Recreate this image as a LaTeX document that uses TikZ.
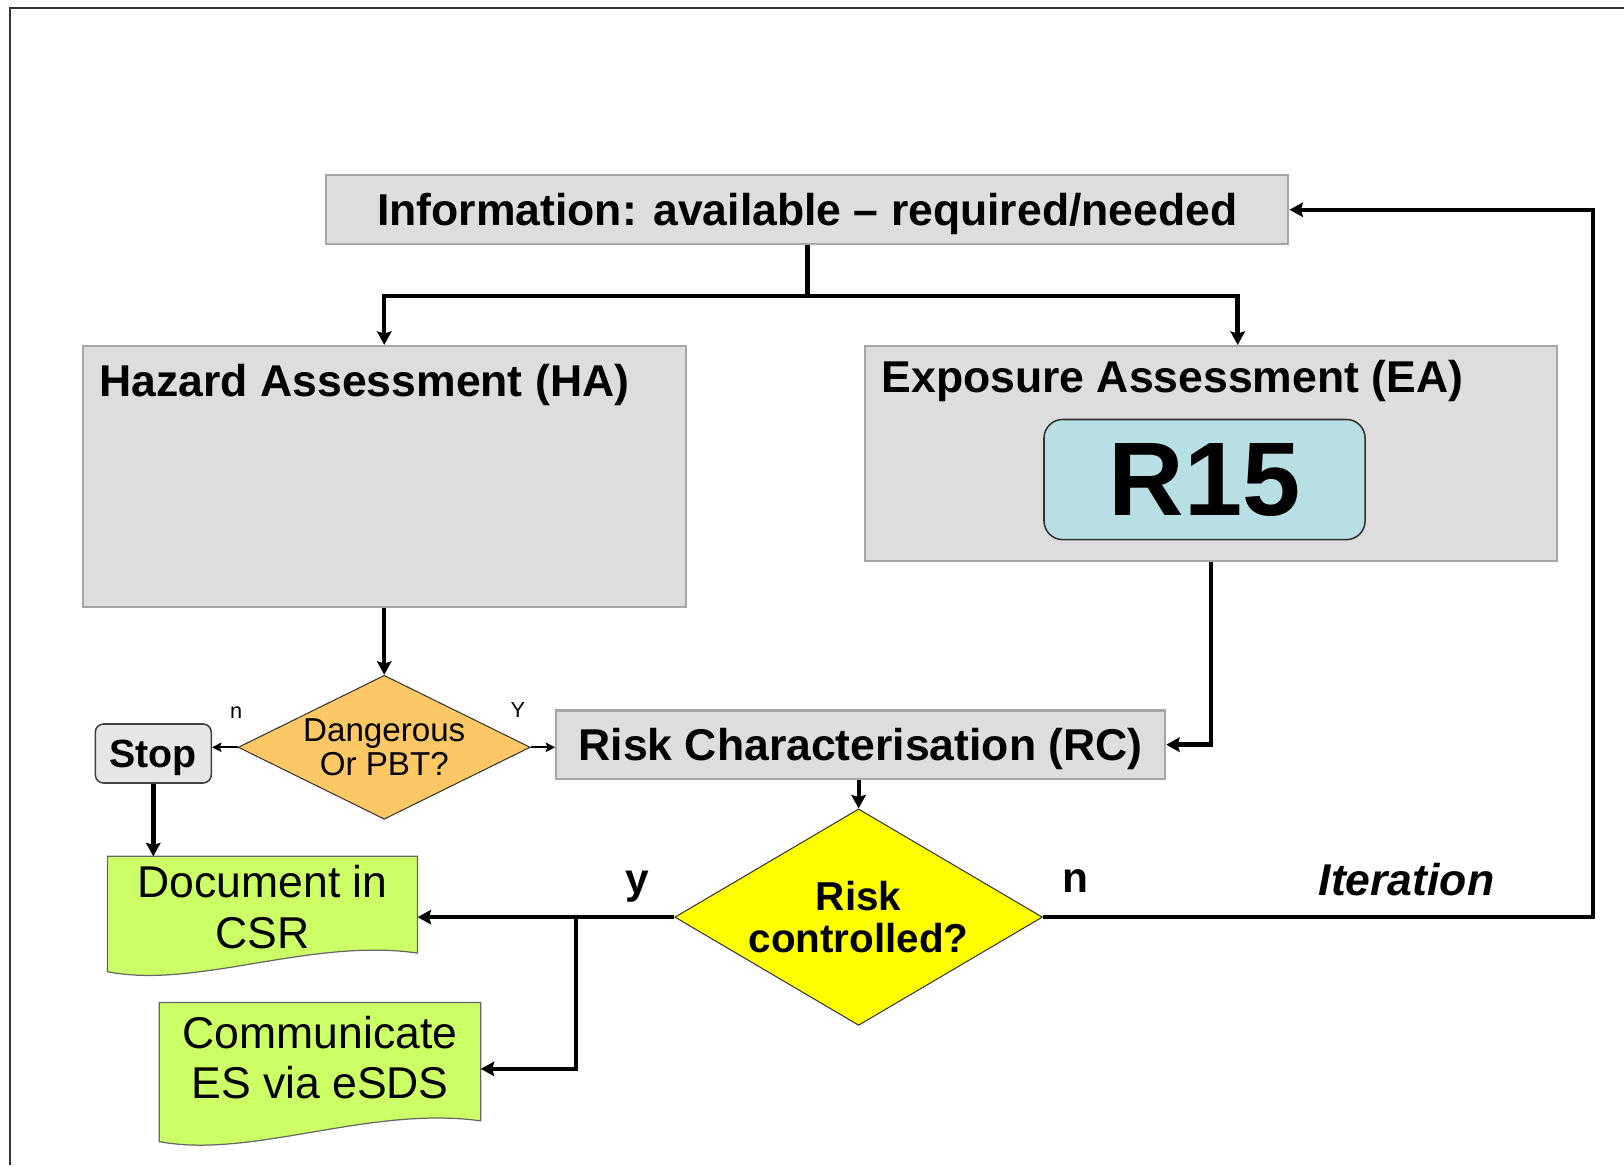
\documentclass[tikz,border=0pt]{standalone}
\usepackage{fontspec}
\setmainfont{Liberation Sans}
\usetikzlibrary{arrows.meta, backgrounds, calc, shapes.geometric}
\definecolor{boxgray}{HTML}{DDDDDD}
\definecolor{boxline}{HTML}{A6A6A6}
\definecolor{stopgray}{HTML}{E6E6E6}
\definecolor{dangorange}{HTML}{FCC865}
\definecolor{riskyellow}{HTML}{FFFF00}
\definecolor{docgreen}{HTML}{CCFF66}
\definecolor{rcyan}{HTML}{B8DFE3}
\tikzset{
    gbox/.style={rectangle,draw=boxline,fill=boxgray,line width=2pt,inner sep=0pt,text height=31pt,text depth=0pt,font=\bfseries\fontsize{43}{49}\selectfont},
    rbox/.style={rectangle,rounded corners=18pt,draw=black!80,fill=rcyan,line width=1.5pt,minimum width=310pt,minimum height=116pt,font=\bfseries\fontsize{101}{101}\selectfont},
    stopbox/.style={rectangle,rounded corners=8pt,draw=black!75,fill=stopgray,line width=1.5pt,minimum width=112pt,minimum height=57pt,text height=27pt,text depth=0pt,font=\bfseries\fontsize{38}{40}\selectfont},
    dnode/.style={diamond,draw=black!80,line width=1pt,inner sep=0pt,align=center},
    docnode/.style={rectangle,inner sep=0pt,align=center,font=\fontsize{43}{49}\selectfont},
    docfill/.style={fill=docgreen,draw=black!60,line width=1.2pt},
    title/.style={inner sep=0pt,anchor=base west,font=\bfseries\fontsize{43}{49}\selectfont},
    lbl/.style={inner sep=0pt,font=\bfseries\fontsize{41}{41}\selectfont},
    slbl/.style={inner sep=0pt,font=\fontsize{21}{21}\selectfont},
    flow/.style={draw,line width=4.3pt,-{Stealth[length=13pt,width=14pt,inset=2pt]}},
    thin flow/.style={draw,line width=2pt,-{Stealth[length=9pt,width=9pt,inset=1.5pt]}},
    line/.style={draw,line width=4.3pt},
}
\begin{document}
\begin{tikzpicture}[x=1pt,y=-1pt]
\useasboundingbox (0,0) rectangle (1568,1125);
% frame
\draw[line width=2pt,black!80] (1568,8) -- (10,8) -- (10,1125);

% boxes
\node[gbox,minimum width=929pt,minimum height=67pt] (info) at (779.5,202.5) {Information: available – required/needed};
\node[gbox,minimum width=582pt,minimum height=252pt] (ha) at (371,460) {};
\node[title] (hatitle) at ($(ha.north west)+(17,50)$) {Hazard Assessment (HA)};
\node[gbox,minimum width=668pt,minimum height=208pt] (ea) at (1169,438) {};
\node[title] (eatitle) at ($(ea.north west)+(17,46)$) {Exposure Assessment (EA)};
\node[rbox] (r15) at (1163,463) {R15};
\node[gbox,minimum width=588pt,minimum height=66pt] (rc) at (831,719) {Risk Characterisation (RC)};

% decisions
\node[dnode,fill=dangorange,shape aspect=2.03,minimum width=282pt,minimum height=139pt,font=\fontsize{32}{33}\selectfont] (dang) at (371,721.5) {Dangerous\\Or PBT?};
\node[dnode,fill=riskyellow,shape aspect=1.7,minimum width=355pt,minimum height=209pt,font=\bfseries\fontsize{39}{40}\selectfont] (risk) at (829,885.5) {Risk\\controlled?};
\node[stopbox] (stop) at (148,727.5) {Stop};

% documents
\node[docnode,minimum width=299pt,minimum height=98pt] (csr) at (253.5,876) {Document in\\CSR};
\node[docnode,minimum width=310pt,minimum height=106pt] (esds) at (309,1021) {Communicate\\ES via eSDS};
\begin{scope}[on background layer]
\path[docfill] (csr.north west) -- (csr.north east) -- ($(csr.south east)+(0,-5)$)
    .. controls ($(csr.south west)+(196,-20)$) and ($(csr.south west)+(86,30)$) .. ($(csr.south west)+(0,13)$) -- cycle;
\path[docfill] (esds.north west) -- (esds.north east) -- ($(esds.south east)+(0,8)$)
    .. controls ($(esds.south west)+(203,-7)$) and ($(esds.south west)+(89,45)$) .. ($(esds.south west)+(0,28)$) -- cycle;
\end{scope}

% labels
\node[slbl] (nsmall) at (228,688) {n};
\node[slbl] (ysmall) at (500,686) {Y};
\node[lbl] (yes) at (615,856) {y};
\node[lbl] (no) at (1038,851) {n};
\node[lbl,font=\bfseries\itshape\fontsize{43}{43}\selectfont] (iter) at (1358,849) {Iteration};

% connectors
\coordinate (split) at ($(info.south)+(0,49)$);
\coordinate (eatop) at ($(ea.north)+(26,0)$);
\coordinate (branch) at ($(risk.west)+(-95,0)$);
\draw[line] (info.south) -- (split);
\draw[flow] (split) -| (ha.north);
\draw[flow] (split) -| (eatop);
\draw[flow] (ha.south) -- (dang.north);
\draw[thin flow] (dang.west) -- (stop.east |- dang.west);
\draw[thin flow] (dang.east) -- (rc.west |- dang.east);
\draw[flow] (ea.south) |- (rc.east);
\draw[flow,line width=3.8pt] (rc.south -| risk.north) -- (risk.north);
\draw[flow] (stop.south) -- (stop.south |- csr.north);
\draw[flow] (risk.west) -- (csr.east |- risk.west);
\draw[flow] (branch) |- ($(esds.east)+(0,11)$);
\draw[flow] (risk.east) -- ++(531,0) |- (info.east);
\end{tikzpicture}
\end{document}
